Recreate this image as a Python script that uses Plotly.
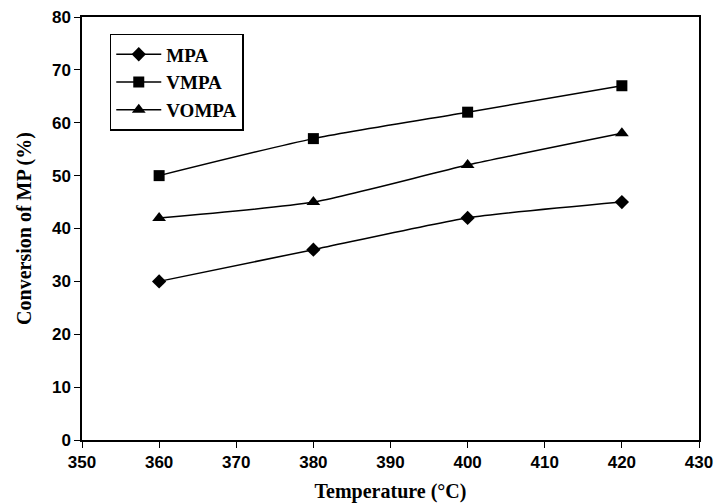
import plotly.graph_objects as go

temperature = [360, 380, 400, 420]
mpa = [30, 36, 42, 45]
vmpa = [50, 57, 62, 67]
vompa = [42, 45, 52, 58]
x_ticks = list(range(350, 431, 10))
y_ticks = list(range(0, 81, 10))

series = [("MPA", mpa, "diamond", 11), ("VMPA", vmpa, "square", 11), ("VOMPA", vompa, "triangle-up", 12)]

fig = go.Figure()
for name, vals, sym, sz in series:
    fig.add_trace(go.Scatter(
        x=temperature, y=vals, name=name, mode="lines+markers",
        line=dict(color="black", width=1.5, shape="spline", smoothing=0.6),
        marker=dict(symbol=sym, size=sz, color="black"),
    ))

axis_font = dict(family="Liberation Sans, Arial", size=17, color="black")
title_font = dict(family="Liberation Serif, Times New Roman", size=20, color="black", weight="bold")

fig.update_layout(
    width=716, height=503,
    margin=dict(l=82, r=17, t=17, b=63),
    paper_bgcolor="white", plot_bgcolor="white",
    showlegend=True,
    legend=dict(
        x=0.045, y=0.96, xanchor="left", yanchor="top",
        bordercolor="black", borderwidth=1.5,
        font=dict(family="Liberation Serif, Times New Roman", size=19, color="black", weight="bold"),
        bgcolor="white", tracegroupgap=0, itemwidth=45,
    ),
    xaxis=dict(
        range=[350, 430], tickvals=x_ticks, ticktext=[f"<b>{v}</b>" for v in x_ticks],
        showgrid=False, zeroline=False, showline=True, linecolor="black", linewidth=1.5,
        mirror=True, ticks="outside", ticklen=6, tickcolor="black",
        tickfont=axis_font, automargin=False,
        title=dict(text="Temperature (°C)", font=title_font),
    ),
    yaxis=dict(
        range=[0, 80], tickvals=y_ticks, ticktext=[f"<b>{v}</b>" for v in y_ticks],
        showgrid=False, zeroline=False, showline=True, linecolor="black", linewidth=1.5,
        mirror=True, ticks="outside", ticklen=6, tickcolor="black",
        tickfont=axis_font, automargin=False,
        title=dict(text="Conversion of MP (%)", font=title_font),
    ),
)

fig.write_html("out.html")
